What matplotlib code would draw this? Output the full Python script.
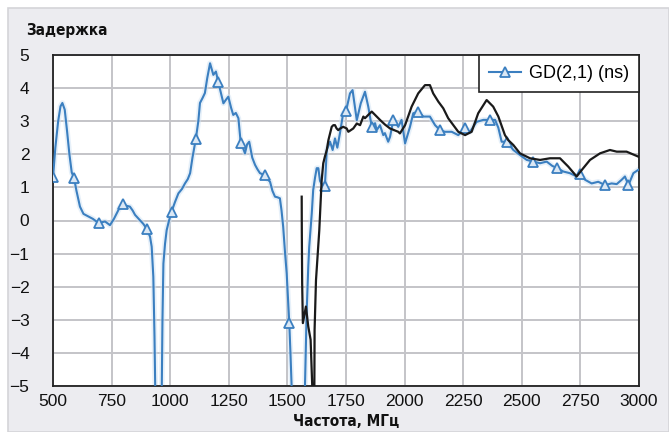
import matplotlib
matplotlib.use("Agg")
import matplotlib.pyplot as plt
from matplotlib.patches import Rectangle
from matplotlib import font_manager
import numpy as np

# ---------------- data ----------------
blue_f = [500, 510, 522, 532, 540, 550, 560, 570, 580, 590, 600, 615, 630, 651, 670,
          695, 710, 722, 743, 760, 772, 785, 797, 810, 828, 840, 850, 871, 885, 900,
          914, 921, 928, 933, 936, 940, 960, 964, 967, 971, 978, 985, 995, 1006, 1020,
          1035, 1050, 1063, 1075, 1085, 1095, 1109, 1120, 1127, 1138, 1148, 1158, 1170, 1184, 1195,
          1205, 1215, 1227, 1238, 1248, 1260, 1269, 1280, 1291, 1301, 1310, 1319, 1328, 1337, 1350,
          1362, 1372, 1383, 1404, 1415, 1426, 1436, 1447, 1458, 1468, 1475, 1482, 1490, 1497, 1503,
          1508, 1513, 1518, 1522, 1570, 1575, 1582, 1589, 1593, 1604, 1610, 1618, 1625, 1632, 1639,
          1646, 1660, 1668, 1682, 1693, 1703, 1713, 1724, 1738, 1750, 1767, 1778, 1796, 1813, 1831,
          1845, 1860, 1874, 1881, 1895, 1909, 1916, 1930, 1938, 1952, 1959, 1973, 1987, 2002, 2023,
          2037, 2058, 2080, 2108, 2130, 2151, 2172, 2201, 2229, 2258, 2279, 2307, 2336, 2364, 2386,
          2400, 2414, 2436, 2464, 2492, 2521, 2549, 2578, 2606, 2630, 2652, 2677, 2705, 2734, 2750,
          2770, 2798, 2826, 2855, 2883, 2905, 2926, 2940, 2955, 2976, 2997]
blue_v = [1.30, 2.20, 3.00, 3.45, 3.55, 3.35, 2.70, 2.00, 1.45, 1.28, 0.90, 0.42, 0.20, 0.12, 0.05,
          -0.08, -0.05, -0.03, -0.14, 0.05, 0.22, 0.40, 0.50, 0.45, 0.42, 0.30, 0.17, 0.01, -0.10, -0.25,
          -0.49, -0.79, -1.70, -3.50, -5.00, -8.00, -8.00, -5.00, -3.00, -1.30, -0.70, -0.29, 0.00, 0.27, 0.55,
          0.82, 0.95, 1.12, 1.25, 1.43, 1.90, 2.45, 3.00, 3.55, 3.70, 3.85, 4.30, 4.75, 4.40, 4.50,
          4.19, 3.90, 3.54, 3.65, 3.74, 3.40, 3.19, 3.25, 3.09, 2.33, 2.20, 2.03, 2.30, 2.38, 1.90,
          1.68, 1.55, 1.43, 1.37, 1.25, 1.17, 0.90, 0.72, 0.70, 0.67, 0.30, -0.19, -0.98, -1.60, -2.40,
          -3.10, -4.00, -5.00, -8.00, -8.00, -5.00, -2.80, -1.40, -0.80, 0.22, 0.92, 1.30, 1.58, 1.58, 1.20,
          1.10, 1.05, 2.13, 2.38, 2.13, 2.48, 2.20, 2.63, 3.24, 3.30, 3.84, 3.94, 3.03, 3.54, 3.89,
          3.44, 2.83, 2.94, 2.73, 2.88, 2.58, 2.64, 2.38, 2.53, 3.04, 2.98, 2.83, 3.04, 2.33, 2.83,
          3.24, 3.29, 3.14, 3.14, 2.88, 2.73, 2.68, 2.68, 2.58, 2.78, 2.68, 2.98, 3.04, 3.04, 3.04,
          2.80, 2.38, 2.38, 2.13, 1.98, 1.83, 1.78, 1.73, 1.78, 1.65, 1.58, 1.48, 1.43, 1.33, 1.40,
          1.23, 1.12, 1.17, 1.07, 1.12, 1.10, 1.23, 1.33, 1.07, 1.43, 1.53]
blue_marker_f = [500, 590, 695, 797, 900, 1006, 1109, 1205, 1301, 1404, 1508, 1660, 1750, 1860,
                 1952, 2058, 2151, 2258, 2364, 2436, 2549, 2652, 2750, 2855, 2955]

black_f = [1561, 1561.5, 1563, 1566, 1579, 1589, 1599, 1606, 1610, 1613, 1615, 1616, 1622, 1636, 1642,
           1646, 1653, 1660, 1668, 1675, 1682, 1689, 1696, 1703, 1710, 1717, 1725, 1738, 1753, 1760,
           1781, 1796, 1810, 1824, 1831, 1852, 1860, 1874, 1895, 1916, 1938, 1973, 1980, 2002, 2030,
           2058, 2087, 2108, 2122, 2144, 2165, 2186, 2208, 2229, 2258, 2286, 2314, 2350, 2378, 2400,
           2428, 2442, 2464, 2492, 2535, 2578, 2620, 2663, 2698, 2734, 2762, 2791, 2834, 2876, 2905,
           2947, 2997]
black_v = [0.72, -0.29, -1.90, -3.10, -2.60, -3.20, -3.60, -5.00, -8.00, -8.00, -5.00, -3.30, -1.80, -0.30, 0.60,
           1.20, 1.73, 1.93, 2.13, 2.43, 2.63, 2.83, 2.88, 2.88, 2.78, 2.73, 2.78, 2.83, 2.78, 2.68,
           2.78, 2.93, 2.88, 3.14, 3.09, 3.24, 3.29, 3.19, 3.04, 2.90, 2.78, 2.68, 2.63, 2.88, 3.44,
           3.84, 4.09, 4.09, 3.84, 3.59, 3.39, 3.09, 2.88, 2.68, 2.58, 2.68, 3.24, 3.64, 3.44, 3.14,
           2.58, 2.43, 2.28, 2.03, 1.88, 1.83, 1.88, 1.88, 1.63, 1.33, 1.58, 1.83, 2.03, 2.13, 2.08,
           2.08, 1.93]

x_ticks = [500, 750, 1000, 1250, 1500, 1750, 2000, 2250, 2500, 2750, 3000]
y_ticks = [-5, -4, -3, -2, -1, 0, 1, 2, 3, 4, 5]
legend_label = "GD(2,1) (ns)"
y_title = "Задержка"
x_title = "Частота, МГц"

# pick a condensed bold face if one is installed
cond_family = None
for fe in font_manager.fontManager.ttflist:
    st = fe.stretch
    if fe.name in ("DejaVu Sans", "Noto Sans", "Open Sans", "Roboto") and fe.weight in (700, "bold") \
            and (st == "condensed" or st == 75 or st == "semi-condensed" or st == 87.5):
        cond_family = fe.name
        break

# ---------------- figure ----------------
W, H = 669, 432
fig = plt.figure(figsize=(W / 100, H / 100), dpi=100)
fig.patch.set_facecolor("white")
fig.patches.append(Rectangle((8 / W, 0), 1 - 8 / W, 1 - 8 / H, transform=fig.transFigure,
                             facecolor="#ececf0", edgecolor="#d4d4d8", linewidth=1.2, zorder=-10))

ax = fig.add_axes([53 / W, 1 - 386 / H, (639 - 53) / W, (386 - 55) / H])
ax.set_facecolor("white")

blue = "#3b7fc0"
ax.plot(blue_f, blue_v, color="#cfe2f4", lw=4.0, alpha=0.5, zorder=2, solid_joinstyle="round")
mk_idx = [blue_f.index(f) for f in blue_marker_f]
ax.plot(blue_f, blue_v, color=blue, lw=1.5, zorder=3, marker="^", markevery=mk_idx,
        markersize=7.5, markerfacecolor="#dbe8f5", markeredgecolor=blue, markeredgewidth=1.3,
        label=legend_label)
ax.plot(black_f, black_v, color="#1a1a1a", lw=1.6, zorder=4)

ax.set_xlim(500, 3000)
ax.set_ylim(-5, 5)
ax.set_xticks(x_ticks)
ax.set_yticks(y_ticks)
ax.grid(True, color="#c4c4c8", lw=1.4)
ax.set_axisbelow(True)
ax.tick_params(length=0, labelsize=12.5)
ax.tick_params(axis="y", pad=17)
ax.tick_params(axis="x", pad=6)
for lab in ax.get_xticklabels() + ax.get_yticklabels():
    lab.set_fontfamily("Liberation Sans")
    lab.set_color("#111111")
for s in ax.spines.values():
    s.set_color("#222222")
    s.set_linewidth(1.3)

leg = ax.legend(loc="upper right", borderaxespad=0, fancybox=False, frameon=True,
                prop={"family": "Liberation Sans", "size": 13}, handlelength=1.75,
                handletextpad=0.45, borderpad=0.55, framealpha=1)
leg.get_frame().set_edgecolor("#222222")
leg.get_frame().set_linewidth(1.2)

if cond_family is not None:
    title_kw = dict(family=cond_family, fontstretch="condensed", fontsize=11)
else:
    title_kw = dict(family="Liberation Sans", fontsize=10.5)
fig.text(26 / W, 1 - 30 / H, y_title, ha="left", va="center", fontweight="bold",
         color="#111111", **title_kw)
fig.text(346 / W, 1 - 421 / H, x_title, ha="center", va="center", fontweight="bold",
         color="#111111", **title_kw)

fig.savefig("out.png", dpi=100)
